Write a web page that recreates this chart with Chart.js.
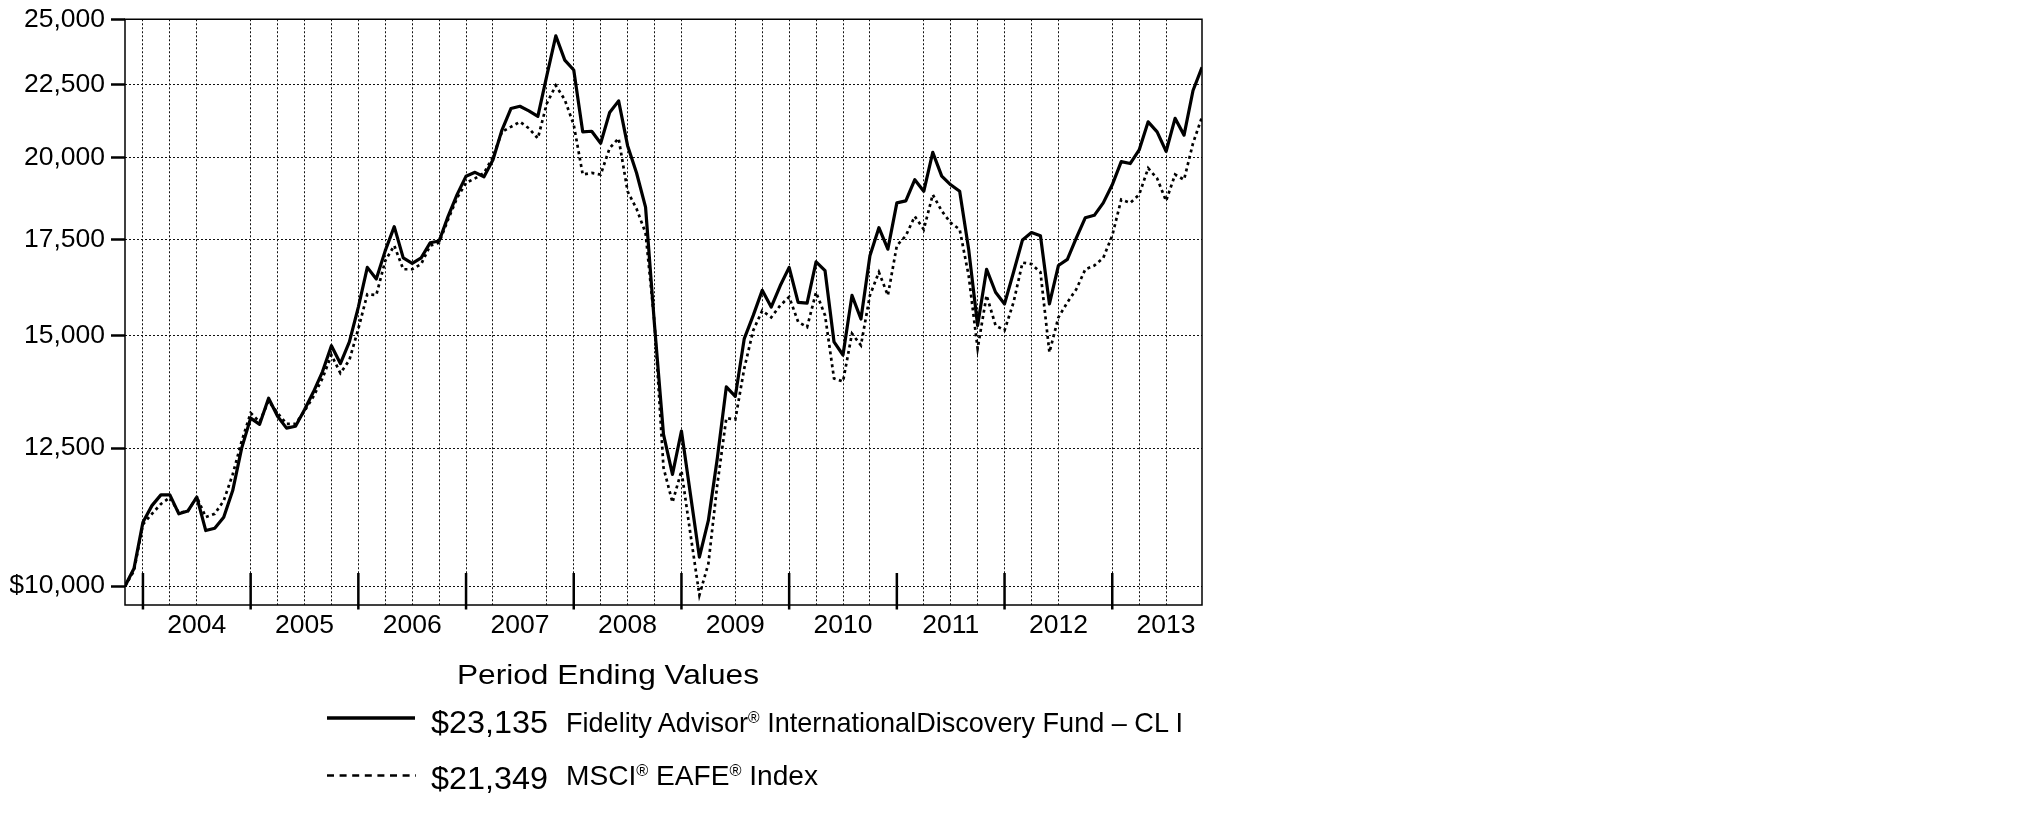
<!DOCTYPE html>
<html>
<head>
<meta charset="utf-8">
<script src="https://cdn.jsdelivr.net/npm/chart.js@4.4.1/dist/chart.umd.min.js"></script>
<style>
  html, body { margin: 0; padding: 0; background: #fff; }
  body { width: 2025px; height: 828px; position: relative; overflow: hidden; font-family: 'Liberation Sans', Arial, sans-serif; color: #000; }
  #c { position: absolute; left: 0; top: 0; }
  .t { position: absolute; white-space: nowrap; line-height: 1; transform-origin: 0 0; }
  .reg { font-size: 0.58em; position: relative; top: -0.6em; }
  svg { position: absolute; left: 0; top: 0; }
</style>
</head>
<body>
<canvas id="c" width="1240" height="828"></canvas>
<svg width="500" height="828">
  <line x1="327" y1="718" x2="415" y2="718" stroke="#000" stroke-width="3.3"/>
  <line x1="327" y1="775.5" x2="416" y2="775.5" stroke="#000" stroke-width="2.5" stroke-dasharray="7 5.6"/>
</svg>
<div class="t" data-f="28" data-b="685" data-l="457" data-w="302">Period Ending Values</div>
<div class="t" data-f="32" data-b="733" data-l="431" data-w="117">$23,135</div>
<div class="t" data-f="28" data-b="733" data-l="566" data-w="617">Fidelity Advisor<span class="reg">®</span> InternationalDiscovery Fund – CL I</div>
<div class="t" data-f="32" data-b="789" data-l="431" data-w="117">$21,349</div>
<div class="t" data-f="28" data-b="786" data-l="566" data-w="252">MSCI<span class="reg">®</span> EAFE<span class="reg">®</span> Index</div>
<script>
// ---- data (month-end values of a $10,000 investment, Oct 2003 .. Oct 2013) ----
const months = [];
(function(){ const m=['Jan','Feb','Mar','Apr','May','Jun','Jul','Aug','Sep','Oct','Nov','Dec'];
  for (let k = 0; k <= 120; k++) { const mm = (9 + k) % 12, yy = 2003 + Math.floor((9 + k) / 12); months.push(m[mm] + ' ' + yy); } })();

const fundValues = [
  10000,10290,11090,11390,11590,11590,11240,11290,11550,10940,10980,11180,
  11670,12500,13120,12990,13550,13160,12910,12950,13300,13690,14140,14750,
  14330,14840,15700,16740,16430,17200,17880,17000,16850,17000,17420,17470,
  18180,18830,19400,19520,19380,19920,20900,21640,21720,21560,21370,22820,
  24340,23400,23030,20840,20860,20460,21500,21910,20380,19500,18450,15250,
  12780,11980,12850,11600,10480,11120,12300,13800,13590,14920,15490,16130,
  15700,16250,16740,15820,15800,16890,16650,14840,14530,16000,15400,17060,
  17850,17240,18580,18640,19290,18930,20160,19400,19130,18930,17240,15240,
  16690,16080,15780,16610,17500,17710,17620,15780,16790,16960,17560,18140,
  18210,18580,19130,19860,19800,20240,21180,20840,20190,21300,20730,22280,
  23135
];
const indexValues = [
  10000,10250,11050,11240,11420,11540,11260,11290,11550,11180,11240,11480,
  11980,12640,13230,13040,13490,13230,13000,13000,13270,13590,13990,14530,
  14110,14410,15160,16030,16010,16920,17340,16690,16690,16830,17340,17420,
  18090,18730,19190,19330,19500,20010,20840,21010,21180,20960,20620,21820,
  22460,21950,21080,19450,19500,19450,20300,20620,18930,18400,17700,15300,
  12110,11450,12050,10880,9857,10370,11790,13120,13090,14220,15120,15610,
  15440,15740,15960,15330,15200,16080,15490,13990,13920,15040,14760,16000,
  16610,16000,17340,17620,18180,17800,18830,18340,17990,17800,16520,14680,
  16000,15240,15120,15820,16870,16830,16610,14590,15440,15820,16160,16690,
  16790,17000,17620,18680,18580,18830,19650,19330,18640,19450,19290,20460,
  21349
];

// ---- axis ticks ----
const yTickValues = [10000, 12500, 15000, 17500, 20000, 22500, 25000];
const yTickLabels = ['$10,000', '12,500', '15,000', '17,500', '20,000', '22,500', '25,000'];
const yearLabels = ['2004','2005','2006','2007','2008','2009','2010','2011','2012','2013'];
const yearLabelMonths = [8, 20, 32, 44, 56, 68, 80, 92, 104, 116];   // mid-year positions (month index)
const yearBoundaryMonths = [2, 14, 26, 38, 50, 62, 74, 86, 98, 110]; // December month-ends
const gridMonths = [2,5,8,14,17,20,23,26,29,32,35,38,41,47,50,53,56,59,62,68,71,74,77,80,83,89,92,95,98,101,104,110,113,116];

const FONT = "'Liberation Sans', Arial, sans-serif";

const frame = {
  id: 'frame',
  afterDraw(chart) {
    const { ctx, chartArea: a } = chart;
    const xs = chart.scales.x;
    ctx.save();
    ctx.strokeStyle = '#000';
    ctx.lineWidth = 1.5;
    ctx.setLineDash([]);
    ctx.strokeRect(a.left, a.top, a.right - a.left, a.bottom - a.top);
    ctx.lineWidth = 2.5;
    ctx.beginPath();
    yearBoundaryMonths.forEach(m => {
      const px = xs.getPixelForValue(m);
      ctx.moveTo(px, a.bottom - 32);
      ctx.lineTo(px, a.bottom + 4.5);
    });
    ctx.stroke();
    ctx.restore();
  }
};

new Chart(document.getElementById('c'), {
  type: 'line',
  data: {
    datasets: [
      {
        label: 'Fidelity Advisor® InternationalDiscovery Fund – CL I',
        data: fundValues.map((v, i) => ({ x: i, y: v })),
        borderColor: '#000', borderWidth: 3.2, pointRadius: 0, tension: 0,
        borderJoinStyle: 'round', order: 1
      },
      {
        label: 'MSCI® EAFE® Index',
        data: indexValues.map((v, i) => ({ x: i, y: v })),
        borderColor: '#000', borderWidth: 2.7, borderDash: [3, 3.5], pointRadius: 0, tension: 0,
        order: 2
      }
    ]
  },
  options: {
    responsive: false,
    animation: false,
    layout: { padding: { left: 10, top: 15, right: 38, bottom: 178 } },
    plugins: { legend: { display: false }, tooltip: { enabled: false } },
    scales: {
      x: {
        type: 'linear', position: 'bottom', min: 0, max: 120, weight: 1,
        afterBuildTicks: s => { s.ticks = gridMonths.map(v => ({ value: v })); },
        afterFit: s => { s.height = 0; },
        ticks: { display: false },
        grid: { color: '#111', lineWidth: 1, drawTicks: false },
        border: { display: false, dash: [2, 2] }
      },
      xYear: {
        type: 'linear', position: 'bottom', min: 0, max: 120, weight: 0,
        afterBuildTicks: s => { s.ticks = yearLabelMonths.map(v => ({ value: v })); },
        afterFit: s => { s.height = 45; },
        ticks: {
          autoSkip: false, maxRotation: 0, minRotation: 0, padding: 7, color: '#000',
          font: { family: FONT, size: 26.5, lineHeight: 1 },
          callback: (v, i) => yearLabels[i]
        },
        grid: { display: false, drawTicks: false },
        border: { display: false }
      },
      y: {
        type: 'logarithmic', position: 'left', min: 9700, max: 25000,
        afterBuildTicks: s => { s.ticks = yTickValues.map(v => ({ value: v })); },
        afterFit: s => { s.width = 115; },
        ticks: {
          autoSkip: false, padding: 6, color: '#000',
          font: { family: FONT, size: 26.5, lineHeight: 1 },
          callback: (v, i) => yTickLabels[i]
        },
        grid: { color: '#111', lineWidth: 1, tickLength: 14, tickWidth: 2.5, tickColor: '#000', tickBorderDash: [] },
        border: { display: false, dash: [2, 2] }
      }
    }
  },
  plugins: [frame]
});

// ---- place legend texts ----
document.querySelectorAll('.t').forEach(el => {
  const f = +el.dataset.f, b = +el.dataset.b, l = +el.dataset.l, w = +el.dataset.w;
  el.style.fontSize = f + 'px';
  el.style.left = l + 'px';
  el.style.top = (b - 0.8465 * f) + 'px';
  const nat = el.getBoundingClientRect().width;
  el.style.transform = 'scaleX(' + (w / nat) + ')';
});
</script>
</body>
</html>
